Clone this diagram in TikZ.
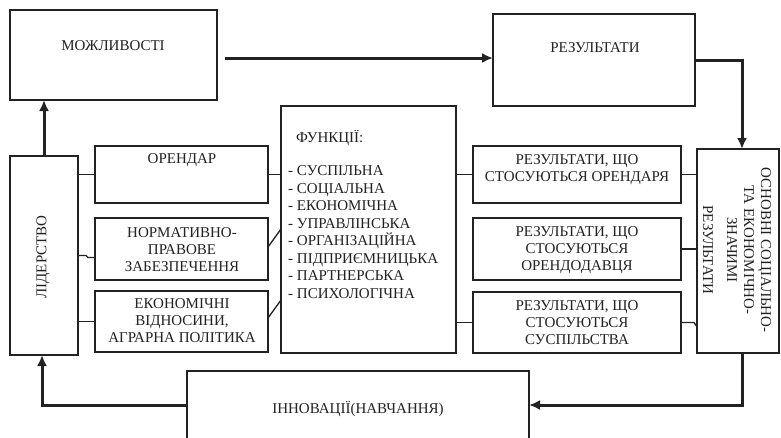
\documentclass[tikz,border=0pt]{standalone}
\usepackage{fontspec}
\setmainfont{Liberation Serif}
\usetikzlibrary{arrows.meta}
\definecolor{ink}{HTML}{222222}
\tikzset{
  x=1pt, y=-1pt,
  box/.style={draw=ink, line width=1.3pt, inner sep=0pt, outer sep=0pt, fill=white},
  txt/.style={font=\fontsize{15}{17}\selectfont, inner sep=0pt, align=center, text=ink},
  conn/.style={draw=ink, line width=1.3pt},
  flow/.style={draw=ink, line width=3pt, -{Latex[length=11pt,width=10pt]}},
}
\begin{document}
\begin{tikzpicture}
\clip (0,0) rectangle (781,437);
\fill[white] (0,0) rectangle (781,437);

% boxes
\node[box, minimum width=207, minimum height=90]  (mozh)  at (113.5,55)  {};
\node[box, minimum width=202, minimum height=92]  (rez)   at (594,60)    {};
\node[box, minimum width=68,  minimum height=199] (lid)   at (44,255.5)  {};
\node[box, minimum width=173, minimum height=57]  (orend) at (181.5,174.5) {};
\node[box, minimum width=173, minimum height=62]  (norm)  at (181.5,249) {};
\node[box, minimum width=173, minimum height=61]  (ekon)  at (181.5,321.5) {};
\node[box, minimum width=175, minimum height=247] (func)  at (368.5,229.5) {};
\node[box, minimum width=208, minimum height=57]  (r1)    at (577,174.5) {};
\node[box, minimum width=208, minimum height=62]  (r2)    at (577,249)   {};
\node[box, minimum width=208, minimum height=61]  (r3)    at (577,322.5) {};
\node[box, minimum width=82,  minimum height=204] (osn)   at (738,251)   {};
\node[box, minimum width=342, minimum height=80]  (innov) at (358,411)   {};

% texts
\node[txt] (tmozh) at (113,46) {МОЖЛИВОСТІ};
\node[txt] (trez) at (595,48) {РЕЗУЛЬТАТИ};
\node[txt, rotate=90] (tlid) at (43,257) {ЛІДЕРСТВО};
\node[txt] (torend) at (182,160) {ОРЕНДАР};
\node[txt] (tnorm) at (182,249.5) {НОРМАТИВНО-\\ПРАВОВЕ\\ЗАБЕЗПЕЧЕННЯ};
\node[txt] (tekon) at (182,321) {ЕКОНОМІЧНІ\\ВІДНОСИНИ,\\АГРАРНА ПОЛІТИКА};
\node[txt, anchor=west] (tfunc) at (296,138) {ФУНКЦІЇ:};
\node[txt, anchor=west, align=left, font=\fontsize{15}{17.5}\selectfont] (tlist) at (288,232)
  {- СУСПІЛЬНА\\- СОЦІАЛЬНА\\- ЕКОНОМІЧНА\\- УПРАВЛІНСЬКА\\- ОРГАНІЗАЦІЙНА\\- ПІДПРИЄМНИЦЬКА\\- ПАРТНЕРСЬКА\\- ПСИХОЛОГІЧНА};
\node[txt] (tr1) at (577,169.5) {РЕЗУЛЬТАТИ, ЩО\\СТОСУЮТЬСЯ ОРЕНДАРЯ};
\node[txt] (tr2) at (577,250) {РЕЗУЛЬТАТИ, ЩО\\СТОСУЮТЬСЯ\\ОРЕНДОДАВЦЯ};
\node[txt] (tr3) at (577,323) {РЕЗУЛЬТАТИ, ЩО\\СТОСУЮТЬСЯ\\СУСПІЛЬСТВА};
\node[txt, rotate=-90] (tosn) at (737,250) {ОСНОВНІ СОЦІАЛЬНО-\\ТА ЕКОНОМІЧНО-\\ЗНАЧИМІ\\[7pt]РЕЗУЛЬТАТИ};
\node[txt] (tinnov) at (358,409) {ІННОВАЦІЇ(НАВЧАННЯ)};

% thin connectors
\draw[conn] (lid.east |- orend.west) -- (orend.west);
\draw[conn] (lid.east) -- ++(8,0) -- ++(2,2) coordinate (z1) -- (z1 -| norm.west);
\draw[conn] (lid.east |- ekon.west) -- (ekon.west);
\draw[conn] (orend.east) -- (orend.east -| func.west);
\coordinate (s1) at ([shift={(0,-2)}]norm.east);
\draw[conn] (s1) -- ++(13,-18) coordinate (s1e);
\coordinate (s2) at ([shift={(0,-3.5)}]ekon.east);
\draw[conn] (s2) -- ++(13,-18) coordinate (s2e);
\draw[conn] (func.east |- r1.west) -- (r1.west);
\draw[conn] (func.east |- r3.west) -- (r3.west);
\draw[conn] (r1.east) -- (r1.east -| osn.west);
\draw[conn] (r2.east) -- (r2.east -| osn.west);
\draw[conn] (r3.east) -- ++(13,0) -- ++(2,3) coordinate (z2) -- (z2 -| osn.west);

% thick flows
\draw[flow] (lid.north) -- (lid.north |- mozh.south);
\coordinate (m1) at ([shift={(8,3)}]mozh.east);
\draw[flow] (m1) -- (m1 -| rez.west);
\draw[flow] (rez.east) -| ([xshift=4pt]osn.north);
\coordinate (b1) at ([xshift=4pt]osn.south);
\draw[flow] (b1) |- ([yshift=6pt]innov.east);
\draw[flow] ([yshift=6pt]innov.west) -| ([xshift=-2pt]lid.south);
\end{tikzpicture}
\end{document}
